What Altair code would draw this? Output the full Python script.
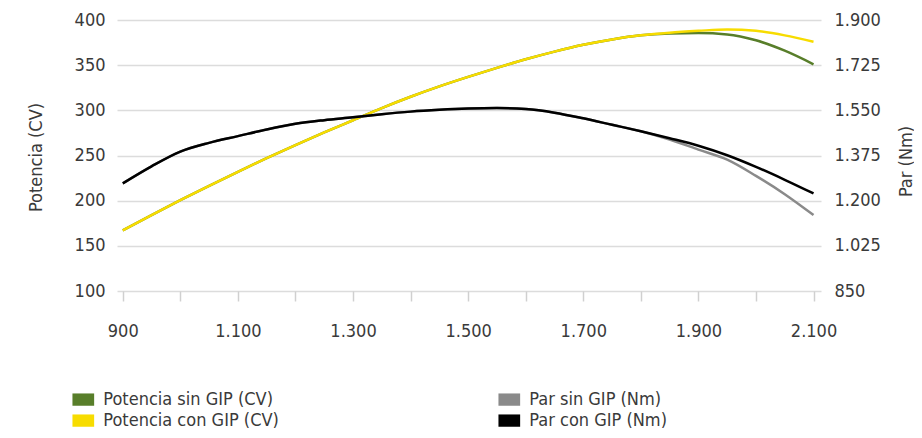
import altair as alt
import pandas as pd

rpm = [900, 950, 1000, 1050, 1100, 1150, 1200, 1250, 1300, 1350, 1400, 1450, 1500,
       1550, 1600, 1650, 1700, 1750, 1800, 1850, 1900, 1950, 2000, 2050, 2100]
potencia_con = [167, 184, 200.5, 216.5, 232, 247, 261.5, 275.5, 289, 302.5, 315, 326.5, 337,
                347, 356.5, 365, 372.5, 378.5, 383, 386, 388, 389.5, 388, 383, 376]
potencia_sin = [167, 184, 200.5, 216.5, 232, 247, 261.5, 275.5, 289, 302.5, 315, 326.5, 337,
                347, 356.5, 365, 372.5, 378.5, 383, 385, 385.5, 384, 377.5, 366, 351]
par_con = [1267, 1333, 1390, 1424, 1450, 1476, 1498, 1512, 1523, 1535, 1545, 1552, 1557,
           1559, 1555, 1541, 1519, 1494, 1469, 1442, 1413, 1376, 1331, 1281, 1228]
par_sin = [1267, 1333, 1390, 1424, 1450, 1476, 1498, 1512, 1523, 1535, 1545, 1552, 1557,
           1559, 1555, 1541, 1519, 1494, 1469, 1437, 1398, 1359, 1296, 1225, 1144]

series_sin = ["Potencia sin GIP (CV)", "Par sin GIP (Nm)"]
colors_sin = ["#587e2a", "#8a8a8a"]
series_con = ["Potencia con GIP (CV)", "Par con GIP (Nm)"]
colors_con = ["#f7dc00", "#000000"]

pot_ticks = [100, 150, 200, 250, 300, 350, 400]
par_ticks = [850, 1025, 1200, 1375, 1550, 1725, 1900]
x_ticks = list(range(900, 2101, 100))

df_pot_sin = pd.DataFrame({"rpm": rpm, "valor": potencia_sin, "serie": series_sin[0]})
df_par_sin = pd.DataFrame({"rpm": rpm, "valor": par_sin, "serie": series_sin[1]})
df_pot_con = pd.DataFrame({"rpm": rpm, "valor": potencia_con, "serie": series_con[0]})
df_par_con = pd.DataFrame({"rpm": rpm, "valor": par_con, "serie": series_con[1]})

FONT = "DejaVu Sans Condensed"
TXT = "#3a3a3a"

x_enc = alt.X(
    "rpm:Q",
    scale=alt.Scale(domain=[890, 2113], nice=False, zero=False),
    axis=alt.Axis(
        values=x_ticks,
        labelExpr="datum.value % 200 == 100 ? replace(format(datum.value, ','), ',', '.') : ''",
        title=None, grid=False, domain=False, tickSize=10, tickColor="#d0d0d0",
        tickWidth=1.5, labelPadding=21, labelBaseline="top", labelFontSize=18,
        labelColor=TXT, labelFont=FONT, labelOverlap=False,
    ),
)


def make_legend(legend_y, col_pad):
    return alt.Legend(
        title=None, orient="none", legendX=-45.7, legendY=legend_y, columns=2,
        direction="horizontal", columnPadding=col_pad, rowPadding=0,
        symbolType="M-2,0L2,0", symbolSize=117.7,
        symbolStrokeWidth=12.3, labelOffset=8, labelFontSize=18, labelFont=FONT,
        labelColor=TXT, padding=0, labelLimit=400,
    )


legend_sin = make_legend(367.4, 200)
legend_con = make_legend(388.4, 194)

color_sin = alt.Color("serie:N", scale=alt.Scale(domain=series_sin, range=colors_sin), legend=legend_sin)
stroke_con = alt.Stroke("serie:N", scale=alt.Scale(domain=series_con, range=colors_con), legend=legend_con)

y_pot = alt.Y(
    "valor:Q",
    scale=alt.Scale(domain=[100, 400], nice=False, zero=False),
    axis=alt.Axis(
        values=pot_ticks, title="Potencia (CV)", orient="left", grid=True,
        gridColor="#dcdcdc", gridWidth=1.5, domain=False, ticks=False,
        labelPadding=12, labelFontSize=18, labelColor=TXT, labelFont=FONT,
        titleFontSize=18, titleFont=FONT, titleColor=TXT, titleFontWeight="normal",
        titleX=-81, titleY=137, titleBaseline="middle", titleAngle=270,
    ),
)

y_par = alt.Y(
    "valor:Q",
    scale=alt.Scale(domain=[850, 1900], nice=False, zero=False),
    axis=alt.Axis(
        values=par_ticks, title="Par (Nm)", orient="right", grid=False,
        domain=False, ticks=False,
        labelExpr="replace(format(datum.value, ','), ',', '.')",
        labelPadding=13, labelFontSize=18, labelColor=TXT, labelFont=FONT,
        titleFontSize=18, titleFont=FONT, titleColor=TXT, titleFontWeight="normal",
        titleX=85, titleY=141, titleBaseline="middle", titleAngle=270,
    ),
)

line = dict(strokeWidth=2.5, interpolate="monotone")

pot_sin = alt.Chart(df_pot_sin).mark_line(**line).encode(x=x_enc, y=y_pot, color=color_sin)
pot_con = alt.Chart(df_pot_con).mark_line(**line).encode(x=x_enc, y=y_pot, stroke=stroke_con)
par_sin_l = alt.Chart(df_par_sin).mark_line(**line).encode(x=x_enc, y=y_par, color=color_sin)
par_con_l = alt.Chart(df_par_con).mark_line(**line).encode(x=x_enc, y=y_par, stroke=stroke_con)

power = alt.layer(pot_sin, pot_con)
torque = alt.layer(par_sin_l, par_con_l)

chart = alt.layer(power, torque).resolve_scale(y="independent").properties(
    width=704, height=271,
    autosize=alt.AutoSizeParams(type="none"),
    padding={"left": 109, "top": 12, "right": 93, "bottom": 139},
).configure_view(stroke=None)

chart.save("out.html", embed_options={"renderer": "svg", "actions": False})
